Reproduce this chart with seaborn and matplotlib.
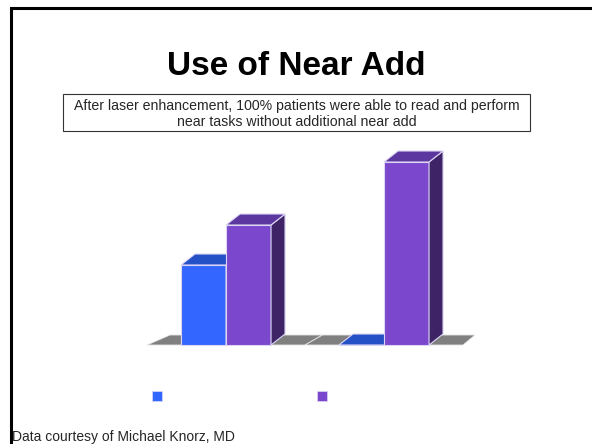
import matplotlib
matplotlib.use('Agg')
import matplotlib.pyplot as plt
import seaborn as sns
import pandas as pd
from matplotlib.patches import Polygon, Rectangle
from matplotlib.lines import Line2D

# ---- data ----
categories = ['Group 1', 'Group 2']
series = ['Series 1', 'Series 2']
blue_values = [8.0, 0.0]
purple_values = [12.0, 18.3]

title = 'Use of Near Add'
note_lines = ['After laser enhancement, 100% patients were able to read and perform',
              'near tasks without additional near add']
footer = 'Data courtesy of Michael Knorz, MD'

front_colors = ['#3366FF', '#7B48CD']
top_colors = ['#2452C6', '#5C379F']
side_colors = ['#28399A', '#3E2467']
edge_col = '#DCD6F4'

df = pd.DataFrame({
    'category': categories * 2,
    'series': [series[0]] * len(categories) + [series[1]] * len(categories),
    'value': blue_values + purple_values,
})

sns.set_style('white')
plt.rcParams['font.family'] = ['Liberation Sans', 'DejaVu Sans']

W, H = 592, 444
fig = plt.figure(figsize=(W / 100, H / 100), dpi=100)

# axes placement (pixels): left 140, right 480, baseline 345, top 145
ax_l, ax_r, ax_b, ax_t = 140, 480, 345, 145
ax = fig.add_axes([ax_l / W, 1 - ax_b / H, (ax_r - ax_l) / W, (ax_b - ax_t) / H])

sns.barplot(data=df, x='category', y='value', hue='series', palette=front_colors,
            width=0.57, saturation=1, ax=ax, legend=False,
            edgecolor=edge_col, linewidth=0.8)

ppu = 158.0       # pixels per category unit
x0px = 226.0      # pixel of first category centre
ax.set_xlim((ax_l - x0px) / ppu, (ax_r - x0px) / ppu)
ax.set_ylim(0, 20)
ax.axis('off')

# pixel -> data unit conversions
px_x = 1.0 / ppu
px_y = 20.0 / (ax_b - ax_t)
dx, dy = 14 * px_x, 11 * px_y

# floor
n = len(categories)
for i in range(n):
    xa, xb = i - 0.5, i + 0.5
    # slight perspective: left back offset larger than right
    def skew(x):
        return (23 - (x + 0.5) / n * 11) * px_x
    fl = Polygon([(xa, 0), (xb, 0), (xb + skew(xb), 10 * px_y), (xa + skew(xa), 10 * px_y)],
                 closed=True, facecolor='#808080', edgecolor='#E6E6E6', linewidth=0.6,
                 zorder=1, clip_on=False)
    ax.add_patch(fl)

bars = list(ax.patches)
bars = [b for b in bars if isinstance(b, Rectangle)]
for idx, b in enumerate(bars):
    k = idx // n
    b.set_zorder(2 + 2 * k)
    b.set_clip_on(False)
    x, w, h = b.get_x(), b.get_width(), b.get_height()
    top = Polygon([(x, h), (x + w, h), (x + w + dx, h + dy), (x + dx, h + dy)], closed=True,
                  facecolor=top_colors[k], edgecolor=edge_col, linewidth=0.8,
                  zorder=3 + 2 * k, clip_on=False)
    side = Polygon([(x + w, 0), (x + w + dx, dy), (x + w + dx, h + dy), (x + w, h)], closed=True,
                   facecolor=side_colors[k], edgecolor=edge_col, linewidth=0.8,
                   zorder=3 + 2 * k, clip_on=False)
    ax.add_patch(side)
    ax.add_patch(top)

# legend squares (labels are blank in the reference)
handles = [Line2D([], [], marker='s', linestyle='none', markersize=6.6,
                  markerfacecolor=c, markeredgecolor=edge_col, markeredgewidth=0.5)
           for c in front_colors]
fs = 10
fs_px = fs * 100 / 72
fig.legend(handles, ['', ''], loc='center left',
           bbox_to_anchor=((157 - 0.5 * fs_px) / W, 1 - 397 / H),
           ncol=2, frameon=False, handlelength=1, handletextpad=0,
           columnspacing=(165 - fs_px) / fs_px, fontsize=fs, borderpad=0, borderaxespad=0)

# title
fig.text(296 / W, 1 - 75 / H, title, ha='center', va='baseline', fontsize=24,
         fontweight='bold', color='black')

# note box
fig.add_artist(Rectangle((63 / W, 1 - 131 / H), (530 - 63) / W, (131 - 94) / H,
                         transform=fig.transFigure, facecolor='white', edgecolor='#333333',
                         linewidth=0.8))
fig.text(297 / W, 1 - 110 / H, note_lines[0], ha='center', va='baseline', fontsize=10.2)
fig.text(297 / W, 1 - 126 / H, note_lines[1], ha='center', va='baseline', fontsize=10.2)

# slide frame
fig.add_artist(Rectangle((10.5 / W, -0.1), 1.2, 1.1 - 8.5 / H, transform=fig.transFigure,
                         facecolor='none', edgecolor='black', linewidth=2.2, clip_on=False))

# footer
fig.text(12 / W, 1 - 443.5 / H, footer, ha='left', va='bottom', fontsize=10)

fig.savefig('out.png', dpi=100)
